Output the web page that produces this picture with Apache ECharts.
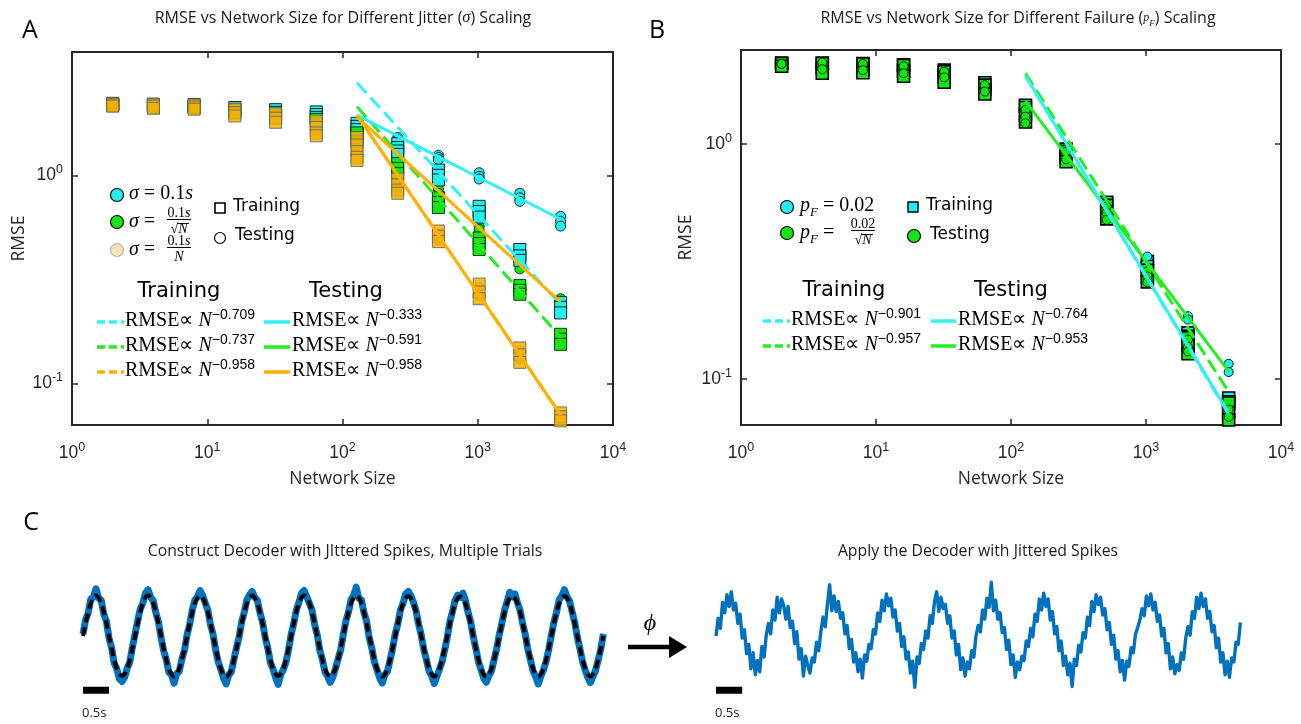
<!DOCTYPE html>
<html>
<head>
<meta charset="utf-8">
<script src="https://cdn.jsdelivr.net/npm/echarts@6/dist/echarts.min.js"></script>
<style>
html,body{margin:0;padding:0;background:#fff;}
#chart{width:1301px;height:724px;}
</style>
</head>
<body>
<div id="chart"></div>
<script>
// ---------------- data ----------------
const networkSizes = [2, 4, 8, 16, 32, 64, 128, 256, 512, 1024, 2048, 4096];

// Panel A: RMSE of each trial (one list per network size)
const jitterTrainCyan = [[2.22,2.19],[2.20,2.16],[2.19,2.15],[2.12,2.07],[2.07,2.01],[2.02,1.96,1.90],
  [1.78,1.72,1.66],[1.42,1.36,1.31,1.26],[1.06,1.00,0.95],[0.71,0.67,0.63],[0.44,0.41,0.39],[0.245,0.232,0.218]];
const jitterTrainGreen = [[2.20,2.17],[2.17,2.12],[2.16,2.11],[2.05,2.00],[1.97,1.90],[1.86,1.78],
  [1.60,1.52,1.45],[1.14,1.08,1.02],[0.78,0.74,0.70],[0.50,0.47,0.44],[0.295,0.28,0.268],[0.172,0.163,0.154]];
const jitterTrainGold = [[2.21,2.18,2.15],[2.19,2.15,2.10],[2.18,2.13,2.08],[2.08,2.00,1.93],[1.98,1.88,1.80],[1.82,1.70,1.60,1.55],
  [1.52,1.40,1.30,1.22,1.18],[0.96,0.90,0.85,0.82],[0.54,0.51,0.48],[0.30,0.275,0.255],[0.148,0.137,0.126],[0.072,0.069,0.066]];
const jitterTestCyan = [[2.21],[2.18],[2.17],[2.10],[2.04],[1.96],[1.76,1.70],[1.52,1.48,1.45],[1.25,1.22,1.19],
  [1.03,0.99,0.96],[0.82,0.78,0.75],[0.635,0.60,0.57]];
const jitterTestGreen = [[2.19],[2.15],[2.14],[2.03],[1.94],[1.82],[1.58,1.50],[1.21,1.16,1.12],[0.86,0.82,0.79],
  [0.60,0.57,0.55],[0.385,0.37,0.355],[0.255,0.248,0.242]];
const jitterTestGold = [[2.19],[2.16],[2.14],[2.02],[1.90],[1.72],[1.45,1.30],[0.93,0.86],[0.52,0.49],
  [0.29,0.265],[0.143,0.131],[0.070,0.067]];

// power-law fits over N = 128 ... 4096 (value at N = 128, exponent)
const fitRange = [128, 4096];
const jitterTrainExp = [0.709, 0.737, 0.958];
const jitterTestExp = [0.333, 0.591, 0.958];
const jitterTrainAt128 = [2.79, 2.14, 1.95];
const jitterTestAt128 = [1.95, 1.91, 1.95];

// Panel B: RMSE of each trial
const failTrainCyan = [[2.21],[2.21],[2.20],[2.17],[2.06],[1.82],[1.46],[0.95],[0.564],[0.316,0.301],[0.157,0.152],[0.083,0.080]];
const failTrainGreen = [[2.20,2.14],[2.20,2.10,2.00],[2.19,2.08,2.01],[2.16,2.04,1.94],[2.03,1.93,1.83],[1.78,1.70,1.63],
  [1.43,1.33,1.24],[0.93,0.88,0.84],[0.548,0.51,0.48],[0.29,0.272,0.259],[0.15,0.139,0.128],[0.079,0.072,0.067]];
const failTestCyan = [[2.19],[2.20],[2.18],[2.12],[2.01],[1.75],[1.38],[0.92],[0.54],[0.332],[0.185,0.179],[0.116,0.107]];
const failTestGreen = [[2.19],[2.22,2.08],[2.19,2.06],[2.14,2.00],[2.03,1.92],[1.78,1.67],[1.395,1.306,1.225],
  [0.927,0.861],[0.541,0.51,0.475],[0.287,0.273,0.258],[0.147,0.137,0.131],[0.074,0.069]];

const failTrainExp = [0.901, 0.957];
const failTestExp = [0.764, 0.953];
const failTrainAt128 = [2.00, 1.95];
const failTestAt128 = [1.52, 1.95];

// Panel C: decoded output (20 samples per second) and target (12 samples per second), 10 s
const decodedTraining = [
  0.05,0.38,0.55,0.88,0.92,1.12,0.90,0.85,0.52,0.35,-0.05,-0.28,-0.65,-0.78,-1.02,-1.08,-0.98,-0.76,-0.62,-0.26,
  0.04,0.35,0.64,0.78,1.02,1.10,0.92,0.84,0.55,0.34,-0.04,-0.35,-0.56,-0.86,-0.92,-1.12,-0.90,-0.84,-0.55,-0.34,
  0.03,0.28,0.62,0.85,0.94,1.08,0.96,0.78,0.62,0.27,0.04,-0.34,-0.62,-0.80,-1.00,-1.14,-0.93,-0.85,-0.56,-0.28,
  -0.02,0.34,0.57,0.86,0.98,1.06,0.92,0.85,0.56,0.33,-0.03,-0.28,-0.63,-0.78,-0.98,-1.15,-0.92,-0.80,-0.62,-0.33,
  0.04,0.30,0.62,0.80,1.02,1.08,0.93,0.78,0.62,0.28,0.03,-0.34,-0.56,-0.85,-0.96,-1.10,-0.98,-0.78,-0.56,-0.34,
  0.02,0.35,0.56,0.86,0.96,1.16,0.90,0.86,0.55,0.35,-0.04,-0.29,-0.62,-0.80,-0.99,-1.12,-0.92,-0.84,-0.58,-0.29,
  0.05,0.29,0.62,0.78,1.00,1.06,0.96,0.80,0.60,0.28,0.02,-0.33,-0.57,-0.84,-0.95,-1.13,-0.96,-0.79,-0.61,-0.33,
  -0.03,0.34,0.58,0.85,0.97,0.92,1.02,0.84,0.56,0.33,-0.02,-0.30,-0.62,-0.80,-1.00,-1.10,-0.94,-0.83,-0.56,-0.30,
  0.04,0.30,0.61,0.82,1.04,0.93,1.00,0.79,0.61,0.29,0.03,-0.33,-0.58,-0.84,-0.97,-1.14,-0.95,-0.80,-0.60,-0.32,
  0.02,0.33,0.57,0.86,0.95,1.10,0.94,0.83,0.57,0.32,-0.03,-0.31,-0.61,-0.81,-0.98,-1.11,-0.96,-0.82,-0.57,-0.31,
  0.05];
const targetSignal = [
  0,0.48,0.83,0.96,0.83,0.48,0,-0.48,-0.83,-0.95,-0.83,-0.48,
  0,0.48,0.84,0.97,0.84,0.48,0,-0.48,-0.83,-0.96,-0.83,-0.48,
  0,0.48,0.83,0.96,0.83,0.48,0,-0.48,-0.84,-0.97,-0.84,-0.48,
  0,0.48,0.83,0.96,0.83,0.48,0,-0.48,-0.83,-0.95,-0.83,-0.48,
  0,0.49,0.84,0.97,0.84,0.49,0,-0.48,-0.83,-0.96,-0.83,-0.48,
  0,0.48,0.83,0.96,0.83,0.48,0,-0.48,-0.84,-0.97,-0.84,-0.48,
  0,0.48,0.83,0.95,0.83,0.48,0,-0.48,-0.83,-0.96,-0.83,-0.48,
  0,0.47,0.82,0.94,0.82,0.47,0,-0.48,-0.84,-0.97,-0.84,-0.48,
  0,0.48,0.83,0.95,0.83,0.48,0,-0.48,-0.83,-0.96,-0.83,-0.48,
  0,0.48,0.83,0.95,0.83,0.48,0,-0.48,-0.83,-0.96,-0.83,-0.48,
  0];
// applied decoder output, 24 samples per second
const decodedApplied = [
  0.00,0.42,0.18,0.80,0.55,0.98,0.70,1.05,0.62,0.78,0.30,0.52,-0.05,0.15,-0.42,-0.20,-0.78,-0.40,-0.92,-0.58,-0.85,-0.25,-0.50,0.02,
  0.30,0.05,0.62,0.38,0.92,0.55,0.88,0.72,0.40,0.70,0.20,0.35,-0.18,0.10,-0.55,-0.30,-0.95,-0.48,-0.70,-0.88,-0.52,-0.62,-0.15,-0.35,
  0.10,0.45,0.22,0.75,1.22,0.60,0.95,0.58,0.82,0.42,0.55,0.05,0.25,-0.30,-0.08,-0.62,-0.40,-0.85,-0.55,-1.00,-0.45,-0.60,-0.20,-0.30,
  0.15,0.05,0.55,0.35,0.85,0.60,1.00,0.72,0.90,0.45,0.62,0.12,0.30,-0.25,-0.02,-0.55,-0.38,-0.88,-0.60,-1.22,-0.50,-0.65,-0.18,-0.32,
  0.12,-0.05,0.48,0.30,0.82,1.05,0.58,0.92,0.65,0.75,0.30,0.48,-0.05,0.12,-0.45,-0.20,-0.80,-0.52,-0.95,-0.62,-0.78,-0.35,-0.50,0.00,
  0.25,0.10,0.62,0.40,0.90,0.68,1.28,0.60,0.85,0.40,0.55,0.08,0.20,-0.32,-0.10,-0.68,-0.45,-0.98,-0.62,-0.80,-0.48,-0.58,-0.12,-0.25,
  0.18,-0.02,0.52,0.35,0.88,0.62,1.02,0.70,0.88,0.38,0.58,0.05,0.22,-0.35,-0.12,-0.70,-0.48,-0.92,-0.65,-1.20,-0.55,-0.70,-0.22,-0.38,
  0.08,-0.05,0.45,0.25,0.82,0.58,0.98,0.75,0.92,0.50,0.65,0.15,0.32,-0.20,0.02,-0.55,-0.35,-0.85,-0.58,-1.05,-0.60,-0.72,-0.28,-0.40,
  0.05,0.20,0.38,0.65,0.48,0.95,0.72,1.00,0.62,0.80,0.35,0.50,0.00,0.18,-0.40,-0.18,-0.78,-0.50,-0.90,-0.68,-0.82,-0.40,-0.55,-0.05,
  0.22,0.02,0.58,0.42,0.92,0.65,1.02,0.70,0.88,0.42,0.58,0.10,0.25,-0.28,-0.05,-0.62,-0.40,-0.92,-0.60,-0.98,-0.52,-0.62,-0.15,-0.20,
  0.32];
const scaleBarSeconds = 0.5;

// ---------------- helpers ----------------
const INK = '#262626';
const CYAN = '#22EEEE', GREEN = '#14E614', GOLD = '#F2B000';
const LINE_CYAN = '#30F2F2', LINE_GREEN = '#22EE22', LINE_GOLD = '#FFB000';
const UI_FONT = 'Open Sans';

function trialPoints(lists) {
  const out = [];
  lists.forEach((trials, i) => trials.forEach(v => out.push([networkSizes[i], v])));
  return out;
}
function fitPoints(at128, exponent) {
  return fitRange.map(n => [n, at128 * Math.pow(n / fitRange[0], -exponent)]);
}
function powerLabel(value) {
  const e = Math.round(Math.log10(value));
  if (Math.abs(Math.log10(value) - e) > 1e-6) return '';
  return '{b|10}{s|' + e + '}';
}
const tickRich = {
  b: {fontFamily: 'Liberation Sans', fontSize: 17.5, color: INK, lineHeight: 24},
  s: {fontFamily: 'Liberation Sans', fontSize: 12.5, color: INK, lineHeight: 12, verticalAlign: 'top'}
};
const nameStyle = {fontFamily: UI_FONT, fontSize: 17.5, color: INK};

function logX(gridIndex, pos) {
  const bottom = pos === 'bottom';
  return {
    type: 'log', logBase: 10, gridIndex, position: pos, min: 1, max: 10000, splitNumber: 4,
    name: bottom ? 'Network Size' : '', nameLocation: 'middle', nameGap: 45, nameTextStyle: nameStyle,
    axisLine: {show: true, lineStyle: {color: INK, width: 2}},
    axisTick: {show: true, inside: true, length: 6, lineStyle: {color: INK, width: 1.5}},
    minorTick: {show: false}, splitLine: {show: false},
    axisLabel: {show: bottom, formatter: powerLabel, rich: tickRich, margin: 16, hideOverlap: false}
  };
}
function logY(gridIndex, pos, min, max, gap) {
  const left = pos === 'left';
  return {
    type: 'log', logBase: 10, gridIndex, position: pos, min, max, splitNumber: 2,
    name: left ? 'RMSE' : '', nameLocation: 'middle', nameGap: gap, nameTextStyle: nameStyle,
    axisLine: {show: true, lineStyle: {color: INK, width: 2}},
    axisTick: {show: true, inside: true, length: 6, lineStyle: {color: INK, width: 1.5}},
    minorTick: {show: false}, splitLine: {show: false},
    axisLabel: {show: left, formatter: powerLabel, rich: tickRich, margin: 9, hideOverlap: false}
  };
}
function scatter(grid, data, symbol, size, color, border, opacity, bw) {
  return {
    type: 'scatter', xAxisIndex: grid * 2, yAxisIndex: grid * 2, data: trialPoints(data),
    symbol, symbolSize: size, silent: true,
    itemStyle: {color, borderColor: border, borderWidth: bw || 1, opacity: opacity == null ? 1 : opacity}
  };
}
function fitLine(grid, at128, exp, color, dashed) {
  return {
    type: 'line', xAxisIndex: grid * 2, yAxisIndex: grid * 2, data: fitPoints(at128, exp),
    showSymbol: false, silent: true, z: 3,
    lineStyle: {color, width: 3, type: dashed ? [14, 6] : 'solid'}
  };
}
function trace(grid, values, rate, color, width, dashed, smooth) {
  return {
    type: 'line', xAxisIndex: grid * 2, yAxisIndex: grid * 2,
    data: values.map((v, i) => [i / rate, v]), showSymbol: false, silent: true, smooth: smooth || false,
    lineStyle: {color, width, type: dashed ? [9, 5] : 'solid', join: 'round'}
  };
}
function scaleBar(grid) {
  return {
    type: 'line', xAxisIndex: grid * 2, yAxisIndex: grid * 2,
    data: [[0, -1.29], [scaleBarSeconds, -1.29]], showSymbol: false, silent: true,
    lineStyle: {color: '#000', width: 7, cap: 'butt'}
  };
}

// ---------------- text / legend graphics ----------------
const mathRich = {
  rm: {fontFamily: 'Liberation Serif', fontSize: 20, lineHeight: 26, fill: '#000'},
  it: {fontFamily: 'Liberation Serif', fontStyle: 'italic', fontSize: 20, lineHeight: 26, fill: '#000'},
  sup: {fontFamily: 'Liberation Sans', fontSize: 14, lineHeight: 14, verticalAlign: 'top', fill: '#000'},
  sub: {fontFamily: 'Liberation Serif', fontStyle: 'italic', fontSize: 13, lineHeight: 13, verticalAlign: 'bottom', fill: '#000'},
  fr: {fontFamily: 'Liberation Serif', fontSize: 14, lineHeight: 15, fill: '#000'},
  fi: {fontFamily: 'Liberation Serif', fontStyle: 'italic', fontSize: 14, lineHeight: 15, fill: '#000'},
  sans: {fontFamily: 'DejaVu Sans', fontSize: 17, lineHeight: 22, fill: '#000'},
  head: {fontFamily: 'DejaVu Sans', fontSize: 21, lineHeight: 26, fill: '#000'},
  t: {fontFamily: UI_FONT, fontSize: 16, lineHeight: 20, fill: '#1a1a1a'},
  ts: {fontFamily: 'Liberation Serif', fontStyle: 'italic', fontSize: 16.5, lineHeight: 20, fill: '#1a1a1a'},
  tp: {fontFamily: 'Liberation Serif', fontStyle: 'italic', fontSize: 12, lineHeight: 20, fill: '#1a1a1a'},
  tps: {fontFamily: 'Liberation Serif', fontStyle: 'italic', fontSize: 9, lineHeight: 9, verticalAlign: 'bottom', fill: '#1a1a1a'},
  c: {fontFamily: UI_FONT, fontSize: 13, lineHeight: 16, fill: '#1a1a1a'},
  ct: {fontFamily: UI_FONT, fontSize: 15.8, lineHeight: 20, fill: '#1a1a1a'},
  letter: {fontFamily: UI_FONT, fontSize: 25, lineHeight: 30, fill: '#000'},
  phi: {fontFamily: 'Liberation Serif', fontStyle: 'italic', fontSize: 24, lineHeight: 28, fill: '#000'}
};
function txt(x, y, text, align) {
  const a = align || 'left';
  return {type: 'text', x, y, silent: true,
    style: {text, rich: mathRich, align: a, verticalAlign: 'middle', textAlign: a, textVerticalAlign: 'middle'}};
}
function hline(x1, x2, y, color, width, dash) {
  return {type: 'line', silent: true, shape: {x1, y1: y, x2, y2: y},
    style: {stroke: color, lineWidth: width, lineDash: dash || null}};
}
function dot(cx, cy, r, fill, stroke, opacity) {
  return {type: 'circle', silent: true, shape: {cx, cy, r},
    style: {fill, stroke, lineWidth: 1.2, opacity: opacity == null ? 1 : opacity}};
}
function box(cx, cy, s, fill, stroke, lw) {
  return {type: 'rect', silent: true, shape: {x: cx - s / 2, y: cy - s / 2, width: s, height: s},
    style: {fill, stroke, lineWidth: lw || 1.4}};
}
function fraction(cx, y, num, den, overline) {
  const els = [
    txt(cx, y - 7, num, 'center'),
    hline(cx - 12, cx + 12, y - 0.5, '#000', 1),
    txt(cx, y + 9, den, 'center')
  ];
  if (overline) els.push(hline(cx - 2, cx + 10, y + 3.5, '#000', 0.9));
  return els;
}
function expLabel(e) { return '{rm|RMSE∝ }{it|N}{sup|−' + e.toFixed(3) + '}'; }

const graphics = [];
// panel letters and titles
graphics.push(txt(30, 31, '{letter|A}', 'center'));
graphics.push(txt(657, 31, '{letter|B}', 'center'));
graphics.push(txt(31, 523, '{letter|C}', 'center'));
graphics.push(txt(343, 18, '{t|RMSE vs Network Size for Different Jitter (}{ts|σ}{t|) Scaling}', 'center'));
graphics.push(txt(1018, 18, '{t|RMSE vs Network Size for Different Failure (}{tp|p}{tps|F}{t|) Scaling}', 'center'));
graphics.push(txt(345, 551, '{ct|Construct Decoder with JIttered Spikes, Multiple Trials}', 'center'));
graphics.push(txt(978, 551, '{ct|Apply the Decoder with Jittered Spikes}', 'center'));

// panel A legend: jitter conditions
graphics.push(dot(117, 195, 6.5, CYAN, '#000'));
graphics.push(txt(129, 194, '{it|σ}{rm| = 0.1}{it|s}'));
graphics.push(dot(117, 222, 6.5, GREEN, '#000'));
graphics.push(txt(129, 222, '{it|σ}{rm| = }'));
graphics.push(...fraction(179, 220, '{fr|0.1}{fi|s}', '{fr|√}{fi|N}', true));
graphics.push(dot(117, 250, 6.5, '#F6E3B4', '#BDB6A4'));
graphics.push(txt(129, 250, '{it|σ}{rm| = }'));
graphics.push(...fraction(179, 248, '{fr|0.1}{fi|s}', '{fi|N}', false));
graphics.push(box(220, 208, 10, '#fff', '#000', 1.6));
graphics.push(txt(233, 207, '{sans|Training}'));
graphics.push(dot(220, 238, 5.5, '#fff', '#000'));
graphics.push(txt(235, 236, '{sans|Testing}'));
// panel A legend: fits
graphics.push(txt(179, 292, '{head|Training}', 'center'));
graphics.push(txt(346, 292, '{head|Testing}', 'center'));
const jitterLegendColors = [LINE_CYAN, LINE_GREEN, LINE_GOLD];
[321, 346, 371].forEach((y, i) => {
  graphics.push(hline(97, 124, y + 1, jitterLegendColors[i], 3.5, [8, 4]));
  graphics.push(txt(125, y, expLabel(jitterTrainExp[i])));
  graphics.push(hline(264, 290, y + 1, jitterLegendColors[i], 3.5));
  graphics.push(txt(292, y, expLabel(jitterTestExp[i])));
});

// panel B legend: failure conditions
graphics.push(dot(787, 207, 6.5, CYAN, '#000'));
graphics.push(txt(800, 206, '{it|p}{sub|F}{rm| = 0.02}'));
graphics.push(dot(787, 233, 6.5, GREEN, '#000'));
graphics.push(txt(800, 233, '{it|p}{sub|F}{rm| = }'));
graphics.push(...fraction(863, 231, '{fr|0.02}', '{fr|√}{fi|N}', true));
graphics.push(box(913, 207, 10, CYAN, '#000', 1.4));
graphics.push(txt(926, 206, '{sans|Training}'));
graphics.push(dot(914, 236, 6.5, GREEN, '#000'));
graphics.push(txt(930, 235, '{sans|Testing}'));
graphics.push(txt(844, 291, '{head|Training}', 'center'));
graphics.push(txt(1011, 291, '{head|Testing}', 'center'));
const failLegendColors = [LINE_CYAN, LINE_GREEN];
[320, 345].forEach((y, i) => {
  graphics.push(hline(763, 790, y + 1, failLegendColors[i], 3.5, [8, 4]));
  graphics.push(txt(791, y, expLabel(failTrainExp[i])));
  graphics.push(hline(931, 956, y + 1, failLegendColors[i], 3.5));
  graphics.push(txt(958, y, expLabel(failTestExp[i])));
});

// panel C: arrow, decoder symbol and scale bar captions
graphics.push(txt(650, 624, '{phi|ϕ}', 'center'));
graphics.push(hline(628, 671, 647, '#000', 4.5));
graphics.push({type: 'polygon', silent: true, shape: {points: [[669, 636], [687, 647], [669, 658]]}, style: {fill: '#000'}});
graphics.push(txt(82, 713, '{c|0.5s}'));
graphics.push(txt(715, 713, '{c|0.5s}'));

// ---------------- chart ----------------
const cTime = {min: 0, max: 10.05};
const option = {
  animation: false,
  backgroundColor: '#fff',
  grid: [
    {left: 72, top: 52, width: 541, height: 373},
    {left: 741, top: 50, width: 540, height: 375},
    {left: 83, top: 575, width: 523, height: 122},
    {left: 716, top: 575, width: 527, height: 122}
  ],
  xAxis: [
    logX(0, 'bottom'), logX(0, 'top'),
    logX(1, 'bottom'), logX(1, 'top'),
    {type: 'value', gridIndex: 2, min: cTime.min, max: cTime.max, show: false},
    {type: 'value', gridIndex: 2, min: cTime.min, max: cTime.max, show: false},
    {type: 'value', gridIndex: 3, min: cTime.min, max: cTime.max, show: false},
    {type: 'value', gridIndex: 3, min: cTime.min, max: cTime.max, show: false}
  ],
  yAxis: [
    logY(0, 'left', 0.063, 3.92, 44), logY(0, 'right', 0.063, 3.92, 40),
    logY(1, 'left', 0.0637, 2.51, 46), logY(1, 'right', 0.0637, 2.51, 40),
    {type: 'value', gridIndex: 2, min: -1.45, max: 1.45, show: false},
    {type: 'value', gridIndex: 2, min: -1.45, max: 1.45, show: false},
    {type: 'value', gridIndex: 3, min: -1.45, max: 1.45, show: false},
    {type: 'value', gridIndex: 3, min: -1.45, max: 1.45, show: false}
  ],
  series: [
    // panel A markers: testing circles below, training squares on top
    scatter(0, jitterTestCyan, 'circle', 10, CYAN, '#0a2a2a'),
    scatter(0, jitterTestGreen, 'circle', 10, GREEN, '#0b3b0b'),
    scatter(0, jitterTestGold, 'circle', 10, GOLD, '#666', 0.85),
    scatter(0, jitterTrainCyan, 'rect', 12, CYAN, '#0a2a2a'),
    scatter(0, jitterTrainGreen, 'rect', 12, GREEN, '#0b3b0b'),
    scatter(0, jitterTrainGold, 'rect', 12, GOLD, '#666', 0.85),
    // panel A fits
    fitLine(0, jitterTrainAt128[2], jitterTrainExp[2], LINE_GOLD, true),
    fitLine(0, jitterTrainAt128[0], jitterTrainExp[0], LINE_CYAN, true),
    fitLine(0, jitterTrainAt128[1], jitterTrainExp[1], LINE_GREEN, true),
    fitLine(0, jitterTestAt128[0], jitterTestExp[0], LINE_CYAN, false),
    fitLine(0, jitterTestAt128[1], jitterTestExp[1], LINE_GOLD, false),
    fitLine(0, jitterTestAt128[2], jitterTestExp[2], LINE_GOLD, false),
    // panel B markers
    scatter(1, failTrainCyan, 'rect', 12, CYAN, '#000', 1, 1.6),
    scatter(1, failTrainGreen, 'rect', 12, GREEN, '#000', 1, 1.6),
    scatter(1, failTestCyan, 'circle', 9, CYAN, '#062020'),
    scatter(1, failTestGreen, 'circle', 9, GREEN, '#063006'),
    // panel B fits
    fitLine(1, failTrainAt128[1], failTrainExp[1], LINE_CYAN, true),
    fitLine(1, failTrainAt128[0], failTrainExp[0], LINE_GREEN, true),
    fitLine(1, failTestAt128[0], failTestExp[0], LINE_GREEN, false),
    fitLine(1, failTestAt128[1], failTestExp[1], LINE_CYAN, false),
    // panel C traces
    trace(2, decodedTraining, 20, '#0072BD', 7, false, false),
    trace(2, targetSignal, 12, '#000', 4, true, 0.35),
    scaleBar(2),
    trace(3, decodedApplied, 24, '#0072BD', 3.4, false, false),
    scaleBar(3)
  ],
  graphic: {elements: graphics}
};
const chart = echarts.init(document.getElementById('chart'), null, {renderer: 'canvas'});
chart.setOption(option);
</script>
</body>
</html>
